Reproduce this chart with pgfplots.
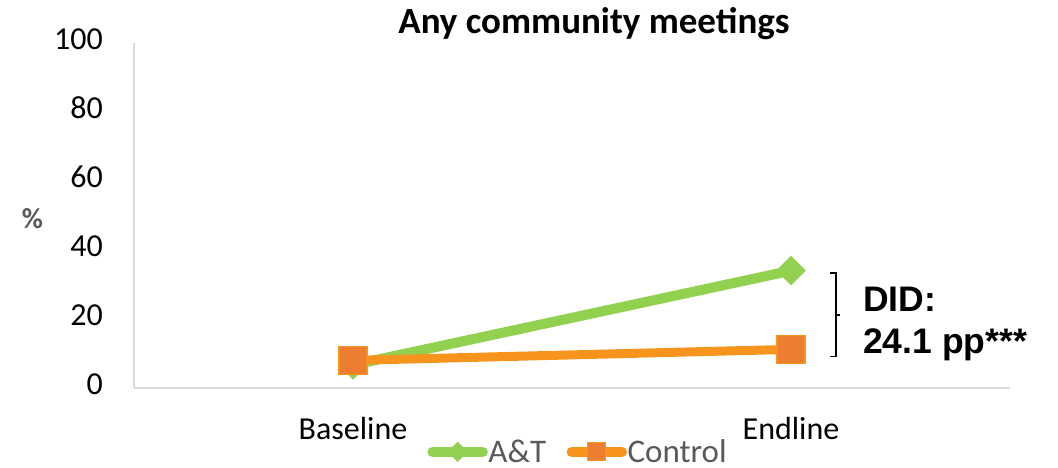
\documentclass[border=0pt]{standalone}
\usepackage{fontspec}
\setmainfont{Carlito}
\newfontfamily\arialfont{Liberation Sans}
\usepackage{pgfplots}
\pgfplotsset{compat=1.18}

\definecolor{atgreen}{HTML}{92D050}
\definecolor{ctrlline}{HTML}{F7941D}
\definecolor{ctrlmark}{HTML}{ED7D31}
\definecolor{axisgrey}{HTML}{D9D9D9}
\definecolor{textgrey}{HTML}{595959}

\begin{document}
\begin{tikzpicture}
% page frame: axis box sits at the origin
\useasboundingbox (-134pt,-79pt) rectangle (924pt,388pt);
\begin{axis}[
  at={(0pt,0pt)}, anchor=south west,
  scale only axis, width=876pt, height=345pt,
  xmin=-0.5, xmax=1.5, ymin=0, ymax=100,
  xtick={0,1}, xticklabels={Baseline,Endline},
  ytick={0,20,...,100},
  axis lines*=left,
  axis line style={axisgrey, line width=1.5pt},
  major tick length=0pt,
  tick style={draw=none},
  /pgf/number format/assume math mode=true,
  ticklabel style={font=\fontsize{32}{38}\selectfont, text=black},
  yticklabel style={anchor=east, inner sep=0pt, xshift=-31pt, yshift=4pt},
  xticklabel style={anchor=base, inner sep=0pt, yshift=-51pt},
  ylabel={\textbf{\%}},
  ylabel style={rotate=-90, at={(axis description cs:-0.116,0.49)}, anchor=center,
    font=\fontsize{29}{34}\selectfont, text=textgrey},
  clip=false,
  legend columns=2,
  legend style={draw=none, fill=none,
    at={(axis description cs:0.506,-0.185)}, anchor=center,
    font=\fontsize{33}{38}\selectfont, text=textgrey,
    nodes={inner sep=0.5pt},
    /tikz/every even column/.append style={column sep=20pt}},
  legend image code/.code={%
    \draw[line cap=round, #1, mark=none] (0pt,0pt) -- (50pt,0pt);
    \draw[#1] plot coordinates {(25pt,0pt)};},
]
% legend keys, drawn smaller than the plotted marks
\addlegendimage{atgreen, line width=10.5pt, mark=square*,
  mark options={mark size=6.9pt, line width=0.5pt, rotate=45, draw=atgreen, fill=atgreen}}
\addlegendimage{ctrlline, line width=10.5pt, mark=square*,
  mark options={mark size=9pt, line width=1pt, fill=ctrlmark, draw=ctrlline}}
\legend{A\&T, Control}

\addplot[forget plot, atgreen, line width=10pt, mark=square*,
  mark options={mark size=10.2pt, line width=0.5pt, rotate=45, draw=atgreen, fill=atgreen}]
  coordinates {(0,6.7) (1,34.0)};
\addplot[forget plot, ctrlline, line width=9pt, mark=square*,
  mark options={mark size=14pt, line width=1.5pt, fill=ctrlmark, draw=ctrlline}]
  coordinates {(0,8.0) (1,11.2)};

% bracket spanning the endline gap
\draw[black, line width=1.3pt] (axis cs:1.089,33.3) -- (axis cs:1.103,33.3)
  -- (axis cs:1.103,9.1) -- (axis cs:1.089,9.1);
\draw[black, line width=1.3pt] (axis cs:1.103,21.2) -- (axis cs:1.112,21.2);
\end{axis}

\node[anchor=base, font=\fontsize{37}{44}\selectfont\bfseries] at (460pt,354.7pt)
  {Any community meetings};
\node[anchor=base west, inner sep=0pt, font=\arialfont\fontsize{35.5}{42}\selectfont\bfseries]
  at (729pt,76.3pt) {DID:};
\node[anchor=base west, inner sep=0pt, font=\arialfont\fontsize{35.5}{42}\selectfont\bfseries]
  at (729pt,34.7pt) {24.1 pp***};
\end{tikzpicture}
\end{document}
